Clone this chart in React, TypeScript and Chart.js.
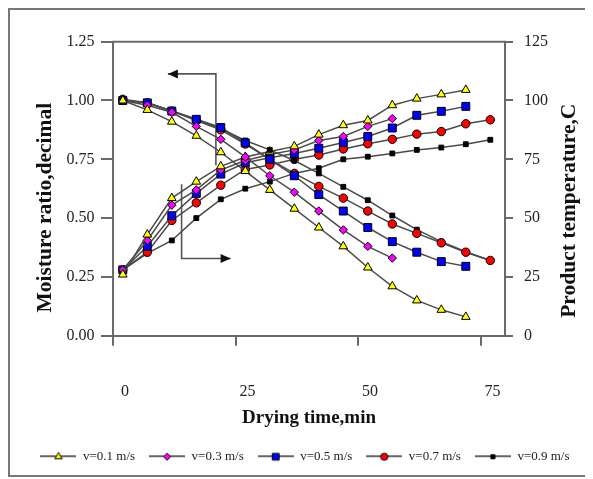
import React, { useEffect, useRef } from 'react';
import { Chart, registerables } from 'chart.js';

Chart.register(...registerables);

// ---- data ----
const timeMin = [2, 7, 12, 17, 22, 27, 32, 37, 42, 47, 52, 57, 62, 67, 72, 77];
const velocityLabels = ['v=0.1 m/s', 'v=0.3 m/s', 'v=0.5 m/s', 'v=0.7 m/s', 'v=0.9 m/s'];

// moisture ratio (left axis, decimal)
const mrV01 = [1.0, 0.96, 0.91, 0.85, 0.78, 0.7, 0.62, 0.54, 0.46, 0.38, 0.29, 0.21, 0.15, 0.11, 0.08];
const mrV03 = [1.0, 0.98, 0.95, 0.89, 0.835, 0.76, 0.68, 0.61, 0.53, 0.45, 0.38, 0.33];
const mrV05 = [1.0, 0.99, 0.955, 0.92, 0.885, 0.82, 0.75, 0.68, 0.6, 0.53, 0.46, 0.4, 0.355, 0.315, 0.295];
const mrV07 = [1.005, 0.99, 0.955, 0.915, 0.875, 0.815, 0.75, 0.69, 0.635, 0.585, 0.53, 0.475, 0.435, 0.395, 0.355, 0.32];
const mrV09 = [1.0, 0.99, 0.955, 0.92, 0.88, 0.83, 0.79, 0.745, 0.69, 0.633, 0.576, 0.511, 0.451, 0.4, 0.357, 0.32];

// product temperature (right axis, C)
const tV01 = [26, 43, 58.5, 65.5, 72, 76, 78.3, 80.5, 85.5, 89.5, 91.5, 98, 100.8, 102.6, 104.5];
const tV03 = [28, 40.5, 55.5, 62, 70.5, 74.5, 77, 79, 83, 84.7, 89, 92.3];
const tV05 = [28, 38, 51, 60.5, 68.7, 73.5, 75.7, 77.5, 79.7, 82.1, 84.7, 88.3, 93.7, 95.4, 97.5];
const tV07 = [28, 35.5, 49, 56.5, 64, 70.7, 72.6, 75, 76.8, 79.4, 81.6, 83.5, 85.7, 86.8, 90.1, 91.8];
const tV09 = [28, 35, 40.5, 50, 58, 62.5, 65.5, 69, 71.2, 75, 76.1, 77.5, 79, 80, 81.4, 83.3];

const xTickValues = [0, 25, 50, 75];
const leftTickValues = [0, 0.25, 0.5, 0.75, 1.0, 1.25];
const rightTickValues = [0, 25, 50, 75, 100, 125];

const xTitle = 'Drying time,min';
const leftTitle = 'Moisture ratio,decimal';
const rightTitle = 'Product temperature,C';

// annotation arrows (in data units of x / left axis)
const arrowMR = [[21.0, 0.725], [21.0, 1.113], [11.2, 1.113]];
const arrowTemp = [[14.0, 0.644], [14.0, 0.328], [24.0, 0.328]];

// ---- styles ----
const markerStyles = [
  { fill: '#ffff00', shape: 'triangle', radius: 5 },
  { fill: '#ff00ff', shape: 'rectRot', radius: 4.2 },
  { fill: '#0000ff', shape: 'rect', radius: 5.6 },
  { fill: '#ff0000', shape: 'circle', radius: 4.2 },
  { fill: '#000000', shape: 'rect', radius: 3.4 },
];
const LINE = '#4a4a4a';
const AXIS = '#6a6a6a';
const FONT = '"Liberation Serif", "Times New Roman", serif';

function drawMarker(ctx: CanvasRenderingContext2D, shape: string, x: number, y: number, r: number) {
  ctx.beginPath();
  if (shape === 'triangle') {
    ctx.moveTo(x, y - r);
    ctx.lineTo(x + r * 0.866, y + r * 0.5);
    ctx.lineTo(x - r * 0.866, y + r * 0.5);
    ctx.closePath();
  } else if (shape === 'rectRot') {
    ctx.moveTo(x, y - r);
    ctx.lineTo(x + r, y);
    ctx.lineTo(x, y + r);
    ctx.lineTo(x - r, y);
    ctx.closePath();
  } else if (shape === 'rect') {
    const s = r * Math.SQRT1_2;
    ctx.rect(x - s, y - s, 2 * s, 2 * s);
  } else {
    ctx.arc(x, y, r, 0, Math.PI * 2);
  }
  ctx.fill();
  ctx.stroke();
}

function makeLegendIcon(idx: number): HTMLCanvasElement {
  const c = document.createElement('canvas');
  c.width = 36;
  c.height = 12;
  const ctx = c.getContext('2d')!;
  ctx.strokeStyle = '#333';
  ctx.lineWidth = 1.5;
  ctx.beginPath();
  ctx.moveTo(0, 6);
  ctx.lineTo(36, 6);
  ctx.stroke();
  const st = markerStyles[idx];
  ctx.fillStyle = st.fill;
  ctx.strokeStyle = '#000';
  ctx.lineWidth = 1;
  drawMarker(ctx, st.shape, 18, 6.5, st.radius * 0.85);
  return c;
}

function series(values: number[]) {
  return values.map((v, i) => ({ x: timeMin[i], y: v }));
}

const notesPlugin = {
  id: 'notes',
  beforeDatasetsDraw(chart: any) {
    const { ctx, chartArea: ca, scales } = chart;
    ctx.save();
    // top frame line
    ctx.strokeStyle = AXIS;
    ctx.lineWidth = 2;
    ctx.beginPath();
    ctx.moveTo(ca.left - 1, ca.top);
    ctx.lineTo(ca.right + 1, ca.top);
    ctx.stroke();
    // arrows
    const sx = scales.x;
    const sy = scales.y;
    [arrowMR, arrowTemp].forEach((pts) => {
      const p = pts.map(([a, b]) => [sx.getPixelForValue(a), sy.getPixelForValue(b)]);
      ctx.strokeStyle = '#555';
      ctx.fillStyle = '#111';
      ctx.lineWidth = 1.6;
      ctx.beginPath();
      ctx.moveTo(p[0][0], p[0][1]);
      for (let i = 1; i < p.length; i++) ctx.lineTo(p[i][0], p[i][1]);
      ctx.stroke();
      const [x1, y1] = p[p.length - 2];
      const [x2, y2] = p[p.length - 1];
      const ang = Math.atan2(y2 - y1, x2 - x1);
      const L = 10;
      const W = 4.5;
      ctx.beginPath();
      ctx.moveTo(x2, y2);
      ctx.lineTo(x2 - L * Math.cos(ang) + W * Math.sin(ang), y2 - L * Math.sin(ang) - W * Math.cos(ang));
      ctx.lineTo(x2 - L * Math.cos(ang) - W * Math.sin(ang), y2 - L * Math.sin(ang) + W * Math.cos(ang));
      ctx.closePath();
      ctx.fill();
    });
    ctx.restore();
  },
  afterDraw(chart: any) {
    const { ctx, chartArea: ca } = chart;
    const cy = (ca.top + ca.bottom) / 2;
    ctx.save();
    ctx.font = 'bold 21.5px ' + FONT;
    ctx.fillStyle = '#111';
    ctx.textAlign = 'center';
    ctx.textBaseline = 'middle';
    ctx.save();
    ctx.translate(ca.left - 68, cy + 19);
    ctx.rotate(-Math.PI / 2);
    ctx.fillText(leftTitle, 0, 0);
    ctx.restore();
    ctx.save();
    ctx.translate(ca.right + 64, cy + 22);
    ctx.rotate(-Math.PI / 2);
    ctx.fillText(rightTitle, 0, 0);
    ctx.restore();
    ctx.restore();
  },
};

export default function App() {
  const ref = useRef<HTMLCanvasElement | null>(null);

  useEffect(() => {
    if (!ref.current) return;
    const mrSets = [mrV01, mrV03, mrV05, mrV07, mrV09];
    const tSets = [tV01, tV03, tV05, tV07, tV09];
    const mk = (vals: number[], i: number, axis: string, label: string) => ({
      label,
      data: series(vals),
      yAxisID: axis,
      borderColor: LINE,
      borderWidth: 1.5,
      backgroundColor: markerStyles[i].fill,
      pointStyle: markerStyles[i].shape,
      pointRadius: markerStyles[i].radius,
      pointHoverRadius: markerStyles[i].radius,
      pointBackgroundColor: markerStyles[i].fill,
      pointBorderColor: '#000',
      pointBorderWidth: 1,
      tension: 0,
      fill: false,
    });
    const datasets: any[] = [];
    mrSets.forEach((v, i) => datasets.push(mk(v, i, 'y', velocityLabels[i])));
    tSets.forEach((v, i) => datasets.push(mk(v, i, 'y1', velocityLabels[i] + ' T')));
    const icons = velocityLabels.map((_, i) => makeLegendIcon(i));

    const chart = new Chart(ref.current, {
      type: 'line',
      data: { datasets },
      plugins: [notesPlugin],
      options: {
        animation: false,
        responsive: true,
        maintainAspectRatio: false,
        layout: { padding: { top: 31.7, left: 14, right: 0, bottom: 2.3 } },
        plugins: {
          tooltip: { enabled: false },
          legend: {
            position: 'bottom',
            labels: {
              usePointStyle: true,
              pointStyleWidth: 36,
              padding: 14,
              color: '#222',
              font: { family: FONT, size: 13 },
              generateLabels: () =>
                velocityLabels.map((text, i) => ({
                  text,
                  pointStyle: icons[i],
                  datasetIndex: i,
                  hidden: false,
                  lineWidth: 0,
                  fillStyle: 'transparent',
                  strokeStyle: 'transparent',
                  fontColor: '#222',
                })),
            },
          },
        },
        scales: {
          x: {
            type: 'linear',
            position: 'bottom',
            min: 0,
            max: 80,
            afterBuildTicks: (s: any) => {
              s.ticks = xTickValues.map((v) => ({ value: v }));
            },
            afterFit: (s: any) => {
              s.height = 100;
            },
            ticks: {
              color: '#222',
              font: { family: FONT, size: 16 },
              padding: 36,
              labelOffset: 12,
              maxRotation: 0,
              autoSkip: false,
            },
            grid: { drawOnChartArea: false, drawTicks: true, tickLength: 10, color: AXIS, lineWidth: 2 },
            border: { display: true, color: AXIS, width: 2 },
            title: {
              display: true,
              text: xTitle,
              color: '#111',
              font: { family: FONT, size: 19, weight: 'bold' },
              padding: { top: 0, bottom: 6.5 },
            },
          },
          y: {
            type: 'linear',
            position: 'left',
            min: 0,
            max: 1.25,
            afterBuildTicks: (s: any) => {
              s.ticks = leftTickValues.map((v) => ({ value: v }));
            },
            afterFit: (s: any) => {
              s.width = 89;
            },
            ticks: {
              color: '#222',
              font: { family: FONT, size: 16 },
              padding: 6.5,
              callback: (v: any) => Number(v).toFixed(2),
            },
            grid: { drawOnChartArea: false, drawTicks: true, tickLength: 12, color: AXIS, lineWidth: 2 },
            border: { display: true, color: AXIS, width: 2 },
          },
          y1: {
            type: 'linear',
            position: 'right',
            min: 0,
            max: 125,
            afterBuildTicks: (s: any) => {
              s.ticks = rightTickValues.map((v) => ({ value: v }));
            },
            afterFit: (s: any) => {
              s.width = 81;
            },
            ticks: {
              color: '#222',
              font: { family: FONT, size: 16 },
              padding: 11,
              callback: (v: any) => String(v),
            },
            grid: { drawOnChartArea: false, drawTicks: true, tickLength: 8, color: AXIS, lineWidth: 2 },
            border: { display: true, color: AXIS, width: 2 },
          },
        },
      } as any,
    });
    return () => chart.destroy();
  }, []);

  return (
    <div
      style={{
        width: 576,
        height: 465,
        border: '2px solid #777',
        position: 'relative',
        background: '#fff',
      }}
    >
      <canvas ref={ref} />
    </div>
  );
}
